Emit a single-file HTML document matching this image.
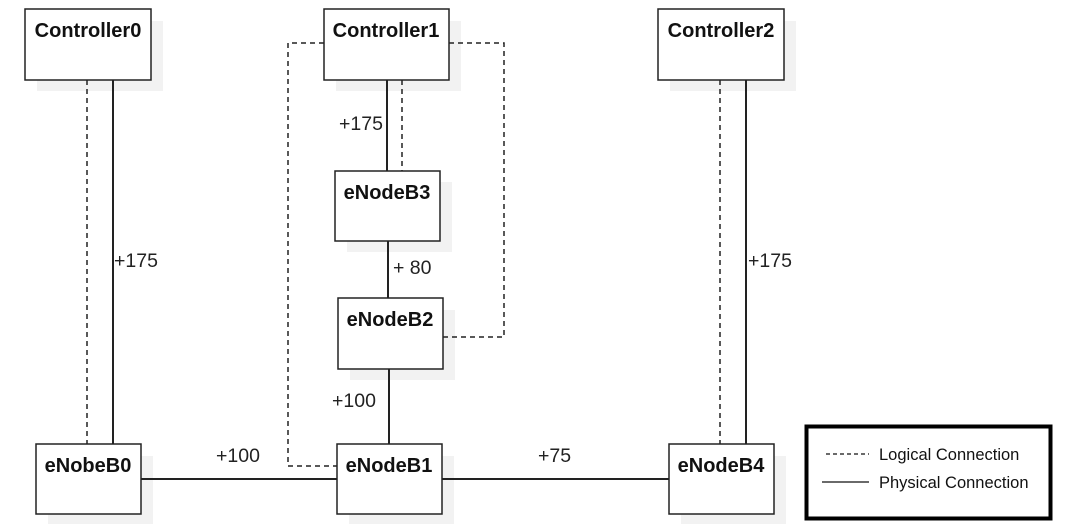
<!DOCTYPE html>
<html><head><meta charset="utf-8"><style>
html,body{margin:0;padding:0;background:#fff;width:1072px;height:524px;overflow:hidden}
svg{display:block}
.b{font-family:"Liberation Sans",Arial,sans-serif;font-weight:bold;font-size:20px;fill:#111}
.l{font-family:"Liberation Sans",Arial,sans-serif;font-size:19.5px;fill:#222}
.g{font-family:"Liberation Sans",sans-serif;font-size:16.5px;fill:#111}
</style></head><body>
<svg width="1072" height="524" viewBox="0 0 1072 524" xmlns="http://www.w3.org/2000/svg">
<g fill="#f2f2f2">
<rect x="37" y="21" width="126" height="70"/>
<rect x="336" y="21" width="125" height="70"/>
<rect x="670" y="21" width="126" height="70"/>
<rect x="347" y="182" width="105" height="70"/>
<rect x="350" y="310" width="105" height="70"/>
<rect x="349" y="456" width="105" height="68"/>
<rect x="48" y="456" width="105" height="68"/>
<rect x="681" y="456" width="105" height="68"/>
</g>
<g stroke="#222" stroke-width="2" fill="none">
<line x1="113" y1="80" x2="113" y2="444"/>
<line x1="387" y1="80" x2="387" y2="171"/>
<line x1="388" y1="241" x2="388" y2="298"/>
<line x1="389" y1="369" x2="389" y2="444"/>
<line x1="746" y1="80" x2="746" y2="444"/>
<line x1="141" y1="479" x2="337" y2="479"/>
<line x1="442" y1="479" x2="669" y2="479"/>
</g>
<g stroke="#222" stroke-width="1.5" fill="none" stroke-dasharray="5,4">
<line x1="87" y1="80" x2="87" y2="444"/>
<line x1="402" y1="80" x2="402" y2="171"/>
<line x1="720" y1="80" x2="720" y2="444"/>
<polyline points="324,43 288,43 288,466 337,466"/>
<polyline points="449,43 504,43 504,337 443,337"/>
</g>
<g fill="#fff" stroke="#222" stroke-width="1.5">
<rect x="25" y="9" width="126" height="71"/>
<rect x="324" y="9" width="125" height="71"/>
<rect x="658" y="9" width="126" height="71"/>
<rect x="335" y="171" width="105" height="70"/>
<rect x="338" y="298" width="105" height="71"/>
<rect x="337" y="444" width="105" height="70"/>
<rect x="36" y="444" width="105" height="70"/>
<rect x="669" y="444" width="105" height="70"/>
</g>
<text class="b" x="88" y="37" text-anchor="middle">Controller0</text>
<text class="b" x="386" y="37" text-anchor="middle">Controller1</text>
<text class="b" x="721" y="37" text-anchor="middle">Controller2</text>
<text class="b" x="387" y="199" text-anchor="middle">eNodeB3</text>
<text class="b" x="390" y="326" text-anchor="middle">eNodeB2</text>
<text class="b" x="389" y="472" text-anchor="middle">eNodeB1</text>
<text class="b" x="88" y="472" text-anchor="middle">eNobeB0</text>
<text class="b" x="721" y="472" text-anchor="middle">eNodeB4</text>
<text class="l" x="339" y="130">+175</text>
<text class="l" x="114" y="267">+175</text>
<text class="l" x="748" y="267">+175</text>
<text class="l" x="393" y="274">+ 80</text>
<text class="l" x="332" y="407">+100</text>
<text class="l" x="216" y="462">+100</text>
<text class="l" x="538" y="462">+75</text>
<rect x="806.5" y="426.5" width="244" height="92" fill="#fff" stroke="#000" stroke-width="4"/>
<line x1="826" y1="454" x2="869" y2="454" stroke="#111" stroke-width="1.3" stroke-dasharray="4,3"/>
<line x1="822" y1="482" x2="869" y2="482" stroke="#111" stroke-width="1.3"/>
<text class="g" x="879" y="460">Logical Connection</text>
<text class="g" x="879" y="488">Physical Connection</text>
</svg>
</body></html>
